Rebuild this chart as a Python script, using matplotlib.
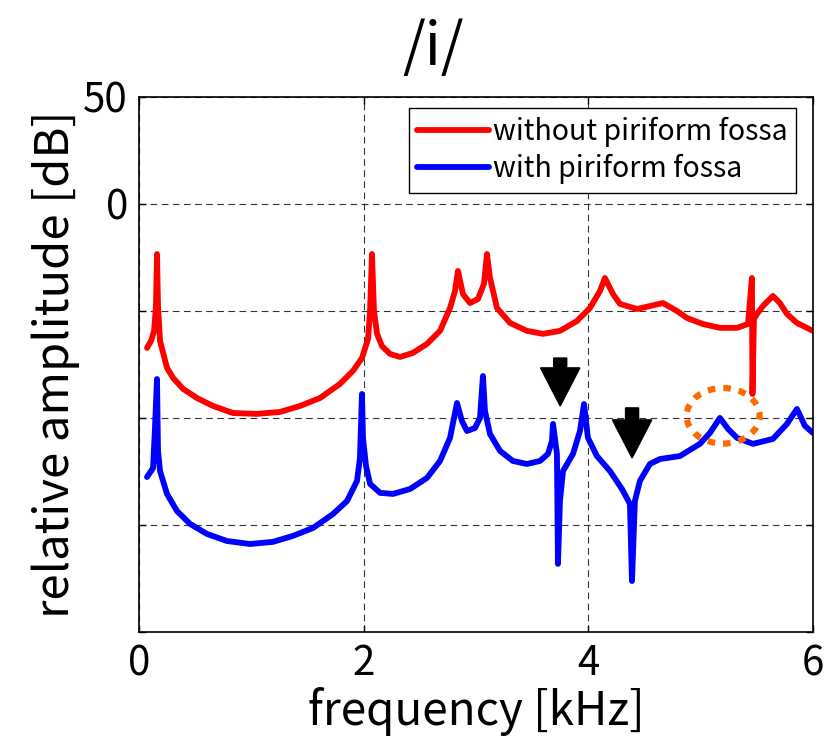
import numpy as np
import matplotlib
matplotlib.use('Agg')
import matplotlib.pyplot as plt
from matplotlib.patches import Ellipse

plt.rcParams['font.family'] = ['Noto Sans CJK JP', 'DejaVu Sans']

# transfer function without the piriform fossa (kHz, dB)
f_without = [0.071, 0.107, 0.134, 0.151, 0.160, 0.169, 0.187, 0.249, 0.303, 0.392,
             0.516, 0.659, 0.837, 1.050, 1.255, 1.433, 1.611, 1.789, 1.905, 1.985,
             2.039, 2.057, 2.074, 2.092, 2.119, 2.163, 2.235, 2.324, 2.439, 2.564,
             2.680, 2.769, 2.813, 2.840, 2.884, 2.947, 3.018, 3.071, 3.098, 3.125,
             3.187, 3.303, 3.454, 3.597, 3.748, 3.899, 4.015, 4.104, 4.148, 4.220,
             4.282, 4.344, 4.433, 4.549, 4.665, 4.789, 4.879, 5.021, 5.172, 5.324,
             5.422, 5.457, 5.462, 5.475, 5.502, 5.555, 5.644, 5.706, 5.769, 5.858,
             6.000]
a_without = [-67.3, -64.0, -59.3, -47.7, -23.4, -47.7, -64.0, -76.6, -81.3, -86.4,
             -90.7, -94.4, -97.7, -98.1, -97.2, -94.4, -90.7, -84.1, -78.0, -72.0,
             -63.1, -50.0, -23.4, -50.0, -60.7, -66.4, -70.1, -71.5, -69.6, -65.4,
             -59.3, -48.6, -40.7, -31.3, -42.1, -46.3, -44.4, -37.4, -23.4, -34.6,
             -48.6, -55.6, -59.3, -60.7, -59.3, -54.7, -48.6, -40.7, -34.6, -42.1,
             -46.7, -47.7, -49.1, -47.7, -46.3, -50.0, -53.3, -56.1, -57.9, -57.9,
             -56.1, -34.6, -88.8, -53.7, -51.4, -47.7, -43.0, -46.3, -51.4, -55.6,
             -59.3]

# transfer function with the piriform fossa
f_with = [0.071, 0.125, 0.142, 0.160, 0.169, 0.187, 0.249, 0.338, 0.454, 0.605,
          0.783, 0.988, 1.193, 1.371, 1.549, 1.727, 1.852, 1.941, 1.967, 1.985,
          1.994, 2.021, 2.057, 2.146, 2.261, 2.413, 2.564, 2.680, 2.769, 2.831,
          2.875, 2.920, 2.991, 3.036, 3.062, 3.080, 3.125, 3.214, 3.329, 3.454,
          3.570, 3.641, 3.677, 3.686, 3.721, 3.730, 3.748, 3.775, 3.864, 3.926,
          3.962, 3.997, 4.077, 4.193, 4.300, 4.371, 4.389, 4.415, 4.460, 4.549,
          4.638, 4.816, 4.994, 5.083, 5.172, 5.244, 5.324, 5.466, 5.644, 5.769,
          5.858, 5.929, 6.000]
a_with = [-127.6, -123.4, -104.7, -81.8, -115.4, -124.8, -135.5, -143.5, -149.5, -154.2,
          -157.5, -158.9, -157.9, -155.1, -151.4, -144.9, -138.8, -129.4, -118.7, -88.8,
          -109.3, -122.4, -130.8, -135.0, -135.5, -133.2, -128.0, -120.1, -109.3, -93.0,
          -101.4, -106.1, -104.7, -100.0, -80.4, -96.7, -107.5, -115.4, -120.1, -121.5,
          -120.1, -116.8, -110.7, -102.8, -116.8, -168.2, -138.8, -124.8, -116.8, -106.1,
          -93.5, -109.3, -117.8, -124.8, -133.2, -140.2, -176.2, -138.8, -129.4, -121.5,
          -119.2, -117.8, -112.1, -107.0, -100.0, -105.1, -109.3, -112.1, -109.8, -102.8,
          -95.8, -103.7, -107.0]

# antiresonances marked with arrows: (freq, arrow top, arrow tip)
arrows = [(3.75, -72.0, -94.4), (4.39, -95.3, -118.7)]
# highlighted peak
circle_center = (5.20, -99.0)

fig = plt.figure(figsize=(8.34, 7.40), dpi=100)
ax = fig.add_axes([0.1667, 0.146, 0.808, 0.723])

ax.plot(f_without, a_without, color='#ff0000', lw=4.2, label='without piriform fossa',
        solid_joinstyle='round', solid_capstyle='round')
ax.plot(f_with, a_with, color='#0000ff', lw=4.2, label='with piriform fossa',
        solid_joinstyle='round', solid_capstyle='round')

for fx, top, tip in arrows:
    ax.arrow(fx, top, 0, tip - top, width=0.116, head_width=0.35, head_length=17.8,
             length_includes_head=True, color='black', zorder=5)

ax.add_patch(Ellipse(circle_center, 0.65, 26, fill=False, edgecolor='#ff6a00',
                     lw=4.5, linestyle=(0, (1.2, 1.3)), zorder=6))

ax.set_xlim(0, 6)
ax.set_ylim(-200, 50)
ax.set_xticks([0, 2, 4, 6])
ax.set_yticks([-200, -150, -100, -50, 0, 50])
ax.set_yticklabels(['', '', '', '', '0', '50'])
ax.tick_params(direction='in', length=5, width=1, labelsize=29, pad=8,
               top=True, right=True)
ax.grid(True, color='black', linestyle=(0, (6, 4)), lw=0.8, alpha=0.8)
for s in ax.spines.values():
    s.set_linewidth(1.2)

ax.set_xlabel('frequency [kHz]', fontsize=33, labelpad=2)
ax.set_ylabel('relative amplitude [dB]', fontsize=34, labelpad=2)
fig.text(433 / 834, 1 - 48 / 740, '/i/', fontsize=42, ha='center', va='center')

leg = ax.legend(loc='upper right', bbox_to_anchor=(0.975, 0.979), fontsize=20.5,
                handlelength=2.5, handletextpad=0.15, borderpad=0.3, labelspacing=0.25,
                fancybox=False, edgecolor='black', framealpha=1, borderaxespad=0)
leg.get_frame().set_linewidth(1.0)

fig.savefig('out.png', dpi=100)
